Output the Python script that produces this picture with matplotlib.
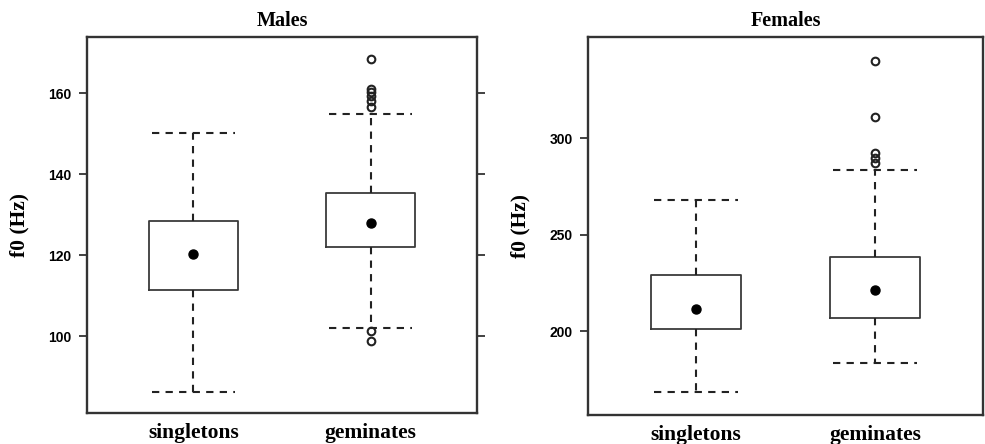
import matplotlib
matplotlib.use("Agg")
import matplotlib.pyplot as plt

# groups
groups = ["singletons", "geminates"]

# Males: summary stats
m_med = [120.3, 128.0]
m_q1 = [111.3, 121.9]
m_q3 = [128.5, 135.4]
m_lo = [86.2, 101.9]
m_hi = [150.2, 154.9]
m_out = [[], [168.4, 161.0, 160.2, 159.2, 158.0, 156.5, 101.2, 98.8]]

# Females
f_med = [211.3, 221.3]
f_q1 = [201.0, 206.6]
f_q3 = [229.1, 238.6]
f_lo = [168.5, 183.2]
f_hi = [268.0, 283.4]
f_out = [[], [340.3, 311.1, 292.5, 289.6, 287.5]]

serif = "Liberation Serif"
sans = "Liberation Sans"


def make_stats(med, q1, q3, lo, hi, out):
    stats = []
    for i in range(len(groups)):
        stats.append(dict(label=groups[i], med=med[i], mean=med[i], q1=q1[i], q3=q3[i],
                          whislo=lo[i], whishi=hi[i], fliers=out[i]))
    return stats


fig = plt.figure(figsize=(9.85, 4.44), dpi=100)
ax1 = fig.add_axes([0.0883, 0.0698, 0.396, 0.847])
ax2 = fig.add_axes([0.597, 0.0653, 0.401, 0.851])

panels = [
    (ax1, "Males", make_stats(m_med, m_q1, m_q3, m_lo, m_hi, m_out), (81, 173.9), [100, 120, 140, 160], True),
    (ax2, "Females", make_stats(f_med, f_q1, f_q3, f_lo, f_hi, f_out), (156.4, 352.6), [200, 250, 300], False),
]

for ax, title, stats, ylim, yt, right_ticks in panels:
    ax.bxp(stats, positions=[1, 2], widths=0.5, capwidths=0.47,
           showmeans=True, patch_artist=False,
           boxprops=dict(color="#3a3a3a", linewidth=1.3),
           medianprops=dict(visible=False),
           meanprops=dict(marker="o", markerfacecolor="black", markeredgecolor="black", markersize=6.5),
           whiskerprops=dict(color="#222222", linewidth=1.5, linestyle=(0, (3.5, 3))),
           capprops=dict(color="#222222", linewidth=1.5, linestyle=(0, (3.5, 3))),
           flierprops=dict(marker="o", markerfacecolor="none", markeredgecolor="#222222",
                           markersize=5.5, markeredgewidth=1.5))
    ax.set_xlim(0.4, 2.6)
    ax.set_ylim(*ylim)
    ax.set_yticks(yt)
    ax.set_xticks([1, 2])
    ax.set_xticklabels(groups, fontfamily=serif, fontweight="bold", fontsize=15.5)
    ax.tick_params(axis="x", length=0, pad=7)
    ax.tick_params(axis="y", direction="out", length=6, width=1.3, color="#333333",
                   right=right_ticks, labelsize=10, pad=5)
    for lab in ax.get_yticklabels():
        lab.set_fontfamily(sans)
        lab.set_fontweight("bold")
    for s in ax.spines.values():
        s.set_linewidth(1.7)
        s.set_color("#333333")
    ax.set_ylabel("f0 (Hz)", fontfamily=serif, fontweight="bold", fontsize=15.5, labelpad=14)
    ax.set_title(title, fontfamily=serif, fontweight="bold", fontsize=14.5, pad=8)

fig.savefig("out.png", dpi=100)
